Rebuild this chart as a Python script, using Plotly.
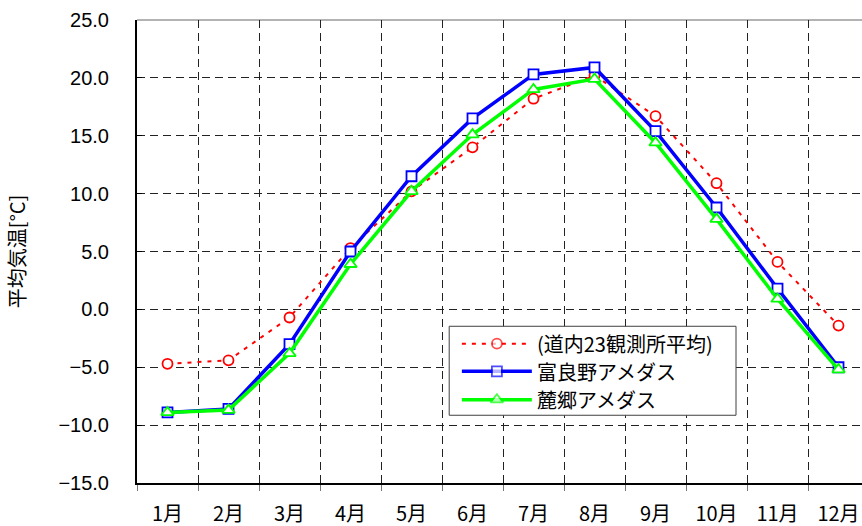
import plotly.graph_objects as go

# Monthly mean temperature (°C)
months = ["1月", "2月", "3月", "4月", "5月", "6月", "7月", "8月", "9月", "10月", "11月", "12月"]
avg23 = [-4.7, -4.4, -0.7, 5.3, 10.2, 14.0, 18.2, 20.2, 16.7, 10.9, 4.1, -1.4]
furano = [-8.9, -8.6, -3.0, 5.0, 11.5, 16.5, 20.3, 20.9, 15.4, 8.8, 1.8, -5.0]
rokugo = [-8.9, -8.7, -3.8, 3.9, 10.2, 15.1, 19.0, 19.9, 14.4, 7.8, 0.9, -5.2]

names = ["(道内23観測所平均)", "富良野アメダス", "麓郷アメダス"]
y_ticks = [-15, -10, -5, 0, 5, 10, 15, 20, 25]

JP = "Noto Sans CJK JP"
NUM = "Liberation Sans"

styles = [
    dict(line=dict(color="#FF0000", width=2, dash="4px,6px"),
         marker=dict(symbol="circle", size=10, color="white", line=dict(color="#FF0000", width=1.8))),
    dict(line=dict(color="#0000FF", width=3.5),
         marker=dict(symbol="square", size=10, color="white", line=dict(color="#0000FF", width=1.8))),
    dict(line=dict(color="#00FF00", width=3.5),
         marker=dict(symbol="triangle-up", size=11, color="white", line=dict(color="#00FF00", width=1.8))),
]

fig = go.Figure()
for name, vals, st in zip(names, [avg23, furano, rokugo], styles):
    fig.add_trace(go.Scatter(x=months, y=vals, name=name, mode="lines+markers",
                             line=st["line"], marker=st["marker"], showlegend=False,
                             cliponaxis=False))

# Legend panel on an overlay axis spanning 0..1 in both directions
lg_x0, lg_x1 = 0.4306, 0.8262
lg_y0, lg_y1 = 0.1463, 0.3385
row_y = [0.3010, 0.2413, 0.1800]
key_x = [0.4481, 0.4964, 0.5446]
text_x = 0.5490

fig.add_trace(go.Scatter(
    x=[lg_x0, lg_x1, lg_x1, lg_x0, lg_x0], y=[lg_y0, lg_y0, lg_y1, lg_y1, lg_y0],
    mode="lines", fill="toself", fillcolor="white",
    line=dict(color="#404040", width=1), showlegend=False,
    xaxis="x2", yaxis="y2", hoverinfo="skip"))

for name, st, ry in zip(names, styles, row_y):
    mk = dict(st["marker"])
    mk["size"] = [0, st["marker"]["size"], 0]
    fig.add_trace(go.Scatter(x=key_x, y=[ry] * 3, mode="lines+markers",
                             line=st["line"], marker=mk, showlegend=False,
                             xaxis="x2", yaxis="y2", hoverinfo="skip"))
    fig.add_annotation(x=text_x, y=ry, xref="paper", yref="paper", text=name,
                       showarrow=False, xanchor="left", yanchor="middle",
                       font=dict(family=JP, size=20, color="black"))

# Thin top border under the top gridline
fig.add_shape(type="line", xref="paper", yref="paper", x0=0, x1=1, y0=1, y1=1,
              line=dict(color="#9a9a9a", width=1.5), layer="below")

fig.update_layout(
    width=862, height=526,
    margin=dict(l=137, r=0, t=20, b=43),
    paper_bgcolor="white", plot_bgcolor="white",
    xaxis=dict(
        type="category", range=[-0.5, 11.385],
        tickson="boundaries", ticks="outside", ticklen=6, tickcolor="#777777",
        showline=True, linecolor="black", linewidth=2,
        showgrid=True, gridcolor="#222222", gridwidth=1, griddash="8px,5px",
        tickfont=dict(family=JP, size=20, color="black"),
        ticklabelstandoff=12,
    ),
    yaxis=dict(
        range=[-15, 25], tickvals=y_ticks, tickformat=".1f",
        ticks="inside", ticklen=5, tickcolor="black",
        showline=True, linecolor="black", linewidth=2,
        showgrid=True, gridcolor="#222222", gridwidth=1, griddash="8px,5px",
        zeroline=False,
        tickfont=dict(family=NUM, size=20, color="black"),
        ticklabelstandoff=22,
        title=dict(text="平均気温[°C]", font=dict(family=JP, size=20, color="black"), standoff=27),
    ),
    xaxis2=dict(overlaying="x", range=[0, 1], visible=False, fixedrange=True),
    yaxis2=dict(overlaying="y", range=[0, 1], visible=False, fixedrange=True),
)

fig.write_html("out.html")
